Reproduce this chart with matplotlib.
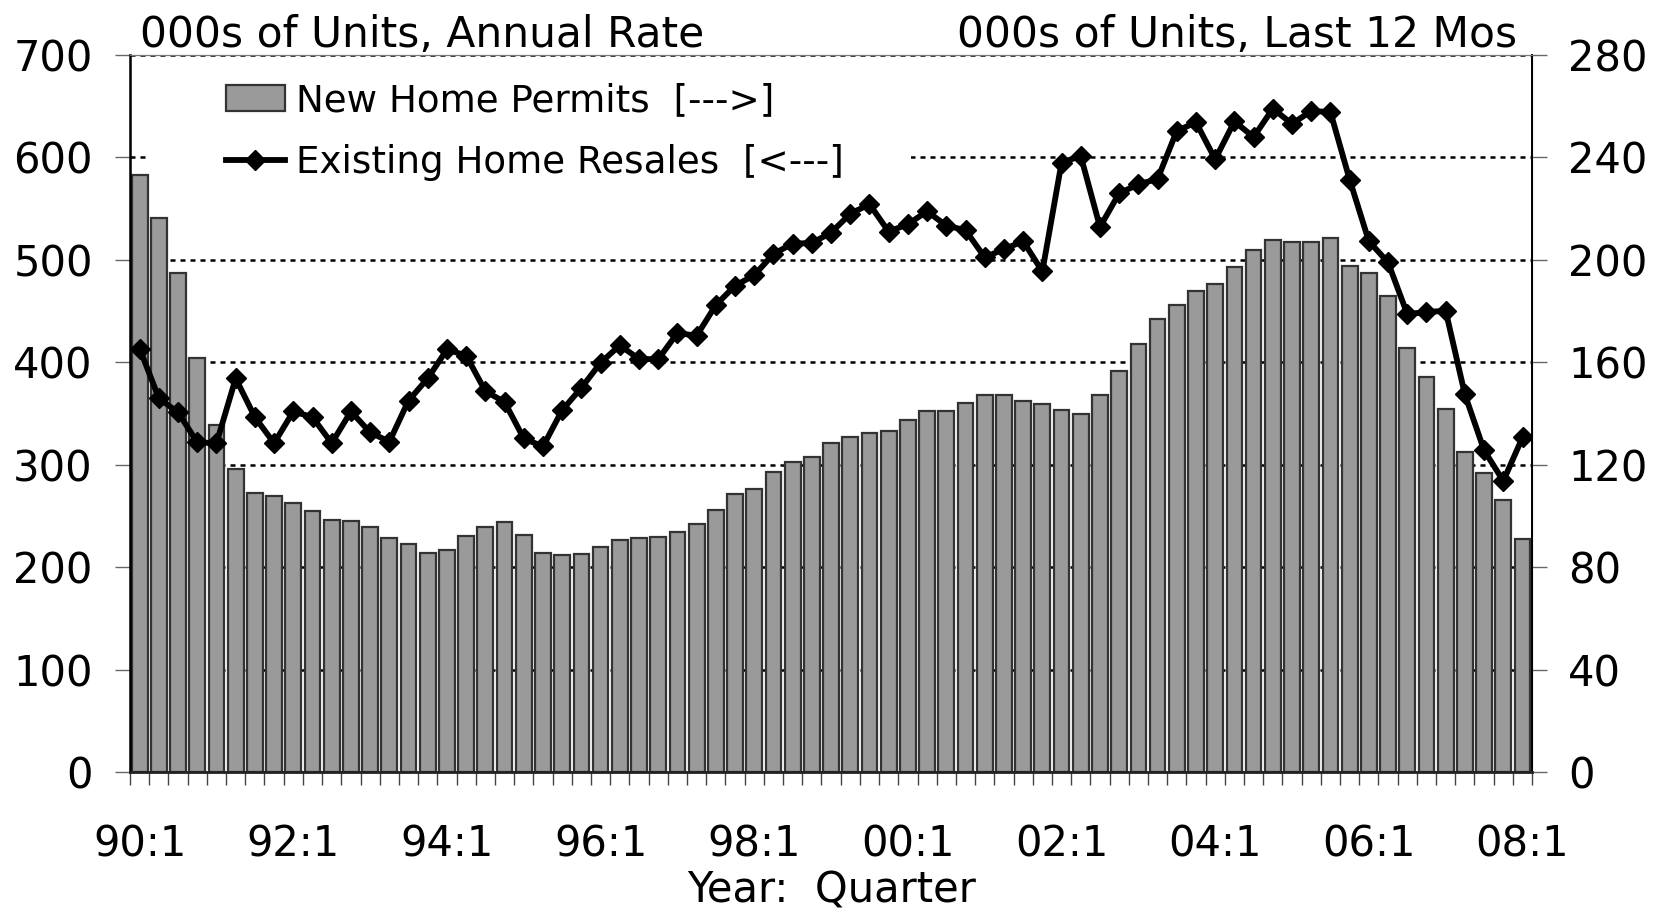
import matplotlib
matplotlib.use('Agg')
import matplotlib.pyplot as plt
import numpy as np
from matplotlib.lines import Line2D
from matplotlib.patches import Patch, Rectangle

plt.rcParams['font.family'] = ['DejaVu Sans']

# quarterly data, 90:1 .. 08:1
tick_labels = ['90:1', '92:1', '94:1', '96:1', '98:1',
               '00:1', '02:1', '04:1', '06:1', '08:1']

# new home permits, 000s of units, last 12 months (right axis)
permits = [233.3, 216.2, 194.9, 161.5, 135.4, 118.2, 109.0, 107.7,
           104.9, 102.0, 98.5, 98.1, 95.7, 91.5, 89.1, 85.7,
           86.8, 92.2, 95.7, 97.6, 92.4, 85.5, 84.8, 85.0,
           87.9, 90.5, 91.3, 91.8, 93.7, 96.8, 102.2, 108.6,
           110.7, 117.1, 121.2, 123.1, 128.6, 131.0, 132.3, 133.2,
           137.3, 141.0, 140.8, 144.1, 147.2, 147.4, 145.0, 143.7,
           141.5, 140.0, 147.4, 156.7, 167.1, 177.0, 182.2, 187.9,
           190.5, 197.1, 203.8, 207.7, 207.1, 206.9, 208.6, 197.5,
           194.9, 186.0, 165.5, 154.1, 141.9, 125.1, 116.8, 106.2,
           90.9]

# existing home resales, 000s of units, annual rate (left axis)
resales = [413.4, 364.9, 351.0, 321.9, 321.0, 384.3, 346.4, 321.0,
           352.0, 346.4, 321.0, 352.0, 331.6, 322.4, 362.6, 384.3,
           412.5, 406.5, 371.8, 361.2, 325.6, 317.8, 353.3, 375.1,
           399.5, 416.6, 403.2, 403.0, 428.6, 425.9, 455.9, 474.8,
           485.0, 505.8, 515.9, 516.4, 526.6, 545.0, 554.3, 527.5,
           534.9, 547.3, 533.5, 528.9, 502.5, 510.4, 518.2, 488.7,
           594.9, 601.4, 532.1, 565.0, 573.7, 579.0, 625.9, 634.2,
           598.2, 635.1, 619.9, 647.6, 632.8, 645.3, 644.3, 578.3,
           518.2, 497.5, 447.1, 449.0, 450.3, 368.6, 314.1, 284.1,
           326.6]

x = np.arange(len(permits))

fig = plt.figure(figsize=(16.61, 9.09), dpi=100)
ax = fig.add_axes([0.0783, 0.1507, 0.8441, 0.7888])
ax2 = ax.twinx()

# line axis above bar axis
ax.set_zorder(ax2.get_zorder() + 1)
ax.patch.set_visible(False)

# --- bars on right axis ---
ax2.set_axisbelow(True)
ax2.bar(x, permits, width=0.82, color='#9a9a9a', edgecolor='#333333',
        linewidth=1.6, zorder=2)
ax2.set_ylim(0, 280)
ax2.set_yticks(np.arange(0, 281, 40))
ax2.yaxis.grid(True, color='black', linestyle=(0, (2.0, 2.0)), linewidth=1.8)
# white box behind the legend hides the gridline there
ax2.add_patch(Rectangle((0.0143, 0.85), 0.543, 0.14, transform=ax2.transAxes,
                        facecolor='white', edgecolor='none', zorder=0.8))

# --- line on left axis ---
ax.plot(x, resales, color='black', linewidth=4.2, marker='D',
        markersize=10.5, zorder=3)
ax.set_ylim(0, 700)
ax.set_yticks(np.arange(0, 701, 100))
ax.set_xlim(-0.5, len(permits) - 0.5)

# x ticks: labels every 8 quarters, small marks between bars
ax.set_xticks(x[::8])
ax.set_xticklabels(tick_labels)
ax.set_xticks(np.arange(-0.5, len(permits), 1), minor=True)
ax.tick_params(axis='x', which='major', length=0, pad=37, labelsize=30)
ax.tick_params(axis='x', which='minor', length=9.4, width=1.0,
               color='#444444', direction='out')
ax.tick_params(axis='y', length=10.8, width=1.0, color='#666666',
               pad=16, labelsize=30)
ax2.tick_params(axis='y', length=10.8, width=1.0, color='#666666',
                pad=15, labelsize=30)
ax.set_xlabel('Year:  Quarter', fontsize=30, labelpad=3)

for a in (ax, ax2):
    a.spines['top'].set_linewidth(0.8)
    a.spines['top'].set_color('#777777')
ax.spines['left'].set_linewidth(1.8)
ax.spines['bottom'].set_linewidth(2.0)
ax.spines['bottom'].set_color('#222222')
ax2.spines['right'].set_linewidth(1.4)

ax.text(0.007, 1.011, '000s of Units, Annual Rate', transform=ax.transAxes,
        fontsize=30.5, ha='left', va='baseline')
ax.text(0.989, 1.011, '000s of Units, Last 12 Mos', transform=ax.transAxes,
        fontsize=30.5, ha='right', va='baseline')

handles = [Patch(facecolor='#9a9a9a', edgecolor='#333333', linewidth=1.6),
           Line2D([], [], color='black', linewidth=4.2, marker='D',
                  markersize=10.5)]
labels = ['New Home Permits  [--->]', 'Existing Home Resales  [<---]']
ax.legend(handles, labels, loc='upper left', bbox_to_anchor=(0.0683, 0.962),
          frameon=False, fontsize=26.8, handlelength=1.58, handleheight=0.68,
          handletextpad=0.31, labelspacing=0.66, borderpad=0, borderaxespad=0)

fig.savefig('out.png', dpi=100)
